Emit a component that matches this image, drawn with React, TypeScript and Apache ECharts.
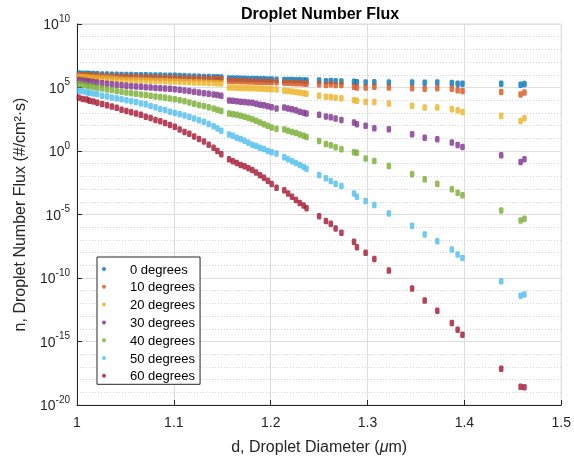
import React, { useEffect, useRef } from "react";
import * as echarts from "echarts";

// droplet diameters (µm), shared by all series
const diameters = [
  1.002, 1.006, 1.010, 1.013, 1.017, 1.021,
  1.026, 1.031, 1.036, 1.041, 1.046, 1.051, 1.056, 1.061, 1.066, 1.071, 1.076, 1.081, 1.086, 1.091, 1.096, 1.101, 1.106, 1.111, 1.116, 1.121, 1.126, 1.131, 1.136, 1.141, 1.145, 1.149,
  1.157, 1.161, 1.165, 1.169, 1.173, 1.177, 1.181, 1.185, 1.189, 1.193, 1.197, 1.201, 1.206,
  1.214, 1.218, 1.222, 1.226, 1.230, 1.234, 1.237,
  1.250, 1.257, 1.262, 1.267, 1.273, 1.286, 1.289, 1.298, 1.307, 1.322, 1.346, 1.359, 1.372, 1.387, 1.393, 1.398, 1.438, 1.458, 1.462,
];

const seriesNames = ["0 degrees", "10 degrees", "20 degrees", "30 degrees", "40 degrees", "50 degrees", "60 degrees"];
const seriesColors = ["#0072BD", "#D95319", "#EDB120", "#7E2F8E", "#77AC30", "#4DBEEE", "#A2142F"];

// log10 of droplet number flux (#/cm^2·s)
const flux0deg = [
  6.1, 6.09, 6.08, 6.07, 6.06, 6.05,
  6.03, 6.02, 6.01, 6.0, 5.99, 5.98, 5.98, 5.97, 5.97, 5.96, 5.95, 5.95, 5.94, 5.93, 5.93, 5.92, 5.9, 5.89, 5.87, 5.86, 5.85, 5.83, 5.82, 5.81, 5.8, 5.79,
  5.71, 5.7, 5.7, 5.69, 5.68, 5.67, 5.66, 5.66, 5.65, 5.64, 5.63, 5.63, 5.62,
  5.6, 5.6, 5.59, 5.58, 5.57, 5.56, 5.55,
  5.55, 5.5, 5.52, 5.5, 5.48, 5.45, 5.42, 5.4, 5.42, 5.4, 5.4, 5.38, 5.4, 5.35, 5.3, 5.3, 5.3, 5.22, 5.28,
];
const flux10deg = [
  5.98, 5.97, 5.96, 5.95, 5.93, 5.92,
  5.9, 5.89, 5.88, 5.87, 5.85, 5.84, 5.83, 5.82, 5.81, 5.8, 5.79, 5.78, 5.77, 5.76, 5.75, 5.74, 5.73, 5.72, 5.71, 5.7, 5.7, 5.69, 5.68, 5.67, 5.67, 5.66,
  5.53, 5.52, 5.51, 5.5, 5.49, 5.48, 5.47, 5.46, 5.45, 5.44, 5.43, 5.43, 5.42,
  5.38, 5.37, 5.36, 5.34, 5.33, 5.31, 5.3,
  5.25, 5.2, 5.25, 5.2, 5.2, 5.05, 5.0, 5.0, 5.05, 5.0, 4.95, 4.9, 4.95, 4.9, 4.78, 4.72, 4.65, 4.45, 4.6,
];
const flux20deg = [
  5.84, 5.82, 5.8, 5.77, 5.76, 5.74,
  5.72, 5.7, 5.68, 5.65, 5.62, 5.6, 5.58, 5.57, 5.56, 5.55, 5.54, 5.52, 5.51, 5.5, 5.48, 5.47, 5.46, 5.44, 5.42, 5.4, 5.39, 5.38, 5.36, 5.35, 5.33, 5.32,
  5.0, 5.0, 4.98, 4.97, 4.96, 4.95, 4.95, 4.93, 4.92, 4.9, 4.88, 4.86, 4.85,
  4.75, 4.72, 4.68, 4.64, 4.6, 4.55, 4.5,
  4.35, 4.28, 4.25, 4.2, 4.16, 4.0, 3.95, 3.87, 3.85, 3.74, 3.56, 3.42, 3.42, 3.29, 3.2, 3.08, 2.77, 2.37, 2.58,
];
const flux30deg = [
  5.6, 5.56, 5.52, 5.48, 5.44, 5.4,
  5.34, 5.3, 5.26, 5.22, 5.17, 5.13, 5.1, 5.08, 5.05, 5.02, 5.0, 4.97, 4.95, 4.92, 4.9, 4.87, 4.82, 4.77, 4.72, 4.66, 4.6, 4.55, 4.5, 4.45, 4.4, 4.35,
  3.98, 3.95, 3.92, 3.88, 3.85, 3.82, 3.8, 3.72, 3.65, 3.6, 3.52, 3.45, 3.35,
  3.42, 3.35, 3.28, 3.2, 3.1, 3.02, 2.95,
  2.85, 2.72, 2.65, 2.55, 2.45, 2.24, 2.11, 1.98, 1.79, 1.72, 1.32, 1.05, 0.93, 0.66, 0.48, 0.32, -0.34, -0.86, -0.65,
];
const flux40deg = [
  5.27, 5.22, 5.15, 5.1, 5.05, 5.0,
  4.92, 4.85, 4.8, 4.72, 4.66, 4.6, 4.55, 4.5, 4.45, 4.4, 4.35, 4.3, 4.25, 4.2, 4.14, 4.08, 4.0, 3.92, 3.82, 3.72, 3.62, 3.55, 3.45, 3.35, 3.25, 3.15,
  2.95, 2.9, 2.85, 2.78, 2.7, 2.6, 2.5, 2.38, 2.25, 2.1, 1.98, 1.85, 1.75,
  1.7, 1.6, 1.5, 1.42, 1.3, 1.2, 1.1,
  0.79, 0.55, 0.45, 0.3, 0.14, -0.1, -0.13, -0.6, -0.79, -1.18, -1.84, -2.23, -2.58, -3.02, -3.29, -3.49, -4.68, -5.47, -5.34,
];
const flux50deg = [
  4.75, 4.7, 4.62, 4.58, 4.52, 4.48,
  4.35, 4.3, 4.22, 4.15, 4.08, 4.0, 3.92, 3.85, 3.75, 3.68, 3.55, 3.45, 3.3, 3.22, 3.1, 3.0, 2.9, 2.8, 2.68, 2.55, 2.42, 2.3, 2.12, 1.95, 1.78, 1.6,
  1.3, 1.2, 1.05, 0.95, 0.8, 0.65, 0.5, 0.4, 0.25, 0.15, 0.0, -0.1, -0.2,
  -0.5, -0.65, -0.8, -0.95, -1.1, -1.25, -1.4,
  -1.89, -2.15, -2.37, -2.58, -2.76, -3.34, -3.6, -3.94, -4.26, -4.92, -5.89, -6.57, -7.1, -7.76, -8.15, -8.42, -10.26, -11.39, -11.3,
];
const flux60deg = [
  4.2, 4.1, 4.05, 3.95, 3.9, 3.8,
  3.7, 3.6, 3.5, 3.4, 3.25, 3.15, 3.05, 2.95, 2.85, 2.7, 2.6, 2.45, 2.35, 2.2, 2.05, 1.9, 1.7, 1.5, 1.35, 1.15, 0.95, 0.75, 0.5, 0.25, 0.0, -0.25,
  -0.65, -0.8, -0.95, -1.1, -1.2, -1.35, -1.5, -1.7, -1.9, -2.1, -2.35, -2.6, -2.9,
  -3.1, -3.35, -3.6, -3.85, -4.1, -4.3, -4.5,
  -5.13, -5.52, -5.73, -6.1, -6.44, -7.15, -7.57, -8.02, -8.5, -9.41, -10.83, -11.78, -12.57, -13.55, -14.07, -14.47, -17.15, -18.57, -18.6,
];

const fluxSeries = [flux0deg, flux10deg, flux20deg, flux30deg, flux40deg, flux50deg, flux60deg];

// y axis: decades (log10), ticks every 5 decades
const yExpMin = -20;
const yExpMax = 10;
const yExpStep = 5;
const xMin = 1;
const xMax = 1.5;
const xStep = 0.1;

const FONT = "'Liberation Sans', Arial, Helvetica, sans-serif";
const AX = "#262626";

export default function App() {
  const ref = useRef<HTMLDivElement>(null);
  useEffect(() => {
    const chart = echarts.init(ref.current!, null, { renderer: "svg" });
    chart.setOption({
      animation: false,
      textStyle: { fontFamily: FONT },
      graphic: [
        {
          type: "text",
          x: 320,
          y: 13,
          style: {
            text: "Droplet Number Flux",
            font: `bold 16px ${FONT}`,
            fill: "#000",
            align: "center",
            verticalAlign: "middle",
            textAlign: "center",
            textVerticalAlign: "middle",
          },
        },
      ],
      grid: {
        left: 77,
        top: 24,
        right: 12,
        bottom: 54,
        show: true,
        borderColor: "#d8d8d8",
        borderWidth: 1,
        backgroundColor: "#fff",
      },
      legend: {
        left: 97,
        top: 257,
        orient: "vertical",
        itemWidth: 42,
        itemHeight: 4,
        itemGap: 2.8,
        padding: [4.5, 5, 1, 5],
        borderColor: AX,
        borderWidth: 1,
        backgroundColor: "#fff",
        icon: "circle",
        textStyle: { fontSize: 13, color: "#000", lineHeight: 15, fontFamily: FONT },
        data: seriesNames,
      },
      xAxis: {
        type: "value",
        min: xMin,
        max: xMax,
        interval: xStep,
        name: "{n|d, Droplet Diameter (}{i|μ}{n|m)}",
        nameLocation: "middle",
        nameGap: 33,
        nameTextStyle: {
          rich: {
            n: { fontSize: 16, color: AX, fontFamily: FONT },
            i: { fontSize: 16, color: AX, fontFamily: FONT, fontStyle: "italic" },
          },
        },
        axisLine: { onZero: false, lineStyle: { color: AX } },
        axisTick: { inside: true, length: 5, lineStyle: { color: AX } },
        axisLabel: { fontSize: 14, color: AX, margin: 10, fontFamily: FONT },
        splitLine: { show: true, lineStyle: { color: "#dedede" } },
      },
      yAxis: {
        type: "value",
        min: yExpMin,
        max: yExpMax,
        interval: yExpStep,
        name: "n, Droplet Number Flux (#/cm²·s)",
        nameLocation: "middle",
        nameGap: 50,
        nameTextStyle: { fontSize: 16, color: AX, fontFamily: FONT },
        axisLine: { show: true, onZero: false, lineStyle: { color: AX } },
        axisTick: { show: true, inside: true, length: 5, lineStyle: { color: AX } },
        axisLabel: {
          margin: 7,
          formatter: (v: number) => `{b|10}{s|${Math.round(v)}}`,
          rich: {
            b: { fontSize: 14, color: AX, lineHeight: 22, fontFamily: FONT },
            s: { fontSize: 10, color: AX, lineHeight: 10, verticalAlign: "top", fontFamily: FONT },
          },
        },
        splitLine: { show: true, lineStyle: { color: "#dedede" } },
        minorTick: { show: false, splitNumber: 5 },
        minorSplitLine: { show: true, lineStyle: { color: "#d4d4d4", type: [1, 2] } },
      },
      series: fluxSeries.map((vals, k) => ({
        name: seriesNames[k],
        type: "scatter",
        symbol: "roundRect",
        symbolSize: [4.5, 6.5],
        itemStyle: { color: seriesColors[k] },
        data: diameters.map((d, i) => [d, vals[i]]),
      })),
    });
    return () => chart.dispose();
  }, []);
  return <div ref={ref} style={{ position: "fixed", left: 0, top: 0, width: 574, height: 459 }} />;
}
